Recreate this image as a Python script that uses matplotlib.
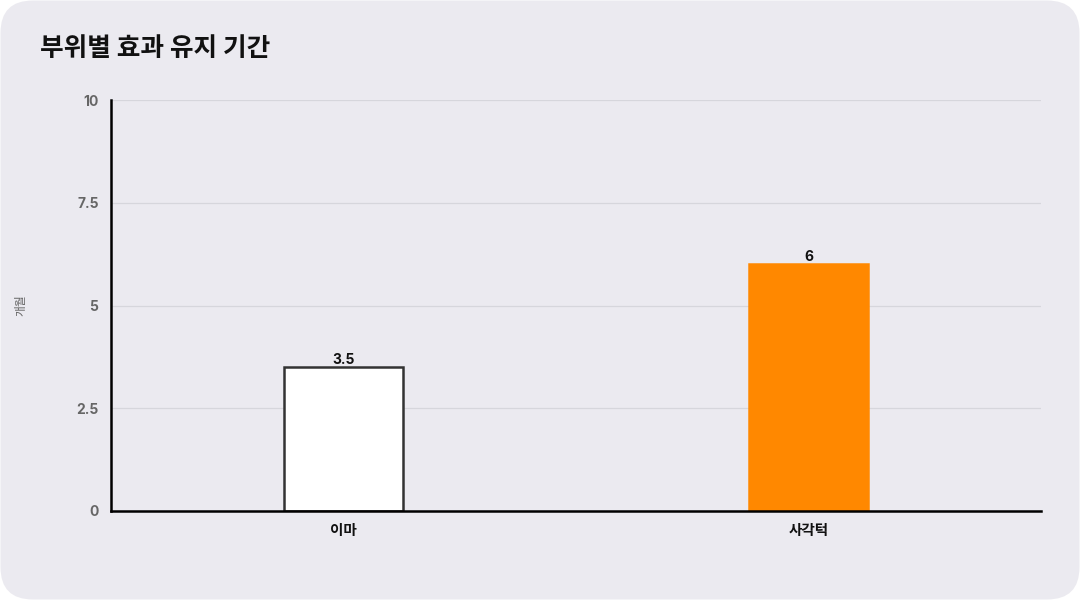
import matplotlib
matplotlib.use("Agg")
import matplotlib.pyplot as plt
from matplotlib.patches import FancyBboxPatch

plt.rcParams['font.family'] = ['Noto Sans CJK KR', 'DejaVu Sans']
num_family = ['Inter', 'Noto Sans CJK KR', 'DejaVu Sans']

categories = ['이마', '사각턱']
values = [3.5, 6]
bar_colors = ['#ffffff', '#ff8800']
edge_colors = ['#333333', '#ff8800']
yticks = [0, 2.5, 5, 7.5, 10]
ytick_labels = ['0', '2.5', '5', '7.5', '10']
title = '부위별 효과 유지 기간'
ylabel = '개월'

W, H = 1080, 600
fig = plt.figure(figsize=(W / 100, H / 100), dpi=100)
fig.patch.set_facecolor('white')
bg = '#ebeaf0'
fig.patches.append(FancyBboxPatch((0.5 / W, 0.5 / H), 1 - 1 / W, 1 - 1 / H,
                                  boxstyle='round,pad=0,rounding_size=0.03',
                                  transform=fig.transFigure, facecolor=bg,
                                  edgecolor='none', zorder=-10,
                                  mutation_aspect=W / H))

ax = fig.add_axes([111 / W, 1 - 511 / H, 930 / W, 411 / H])
ax.set_facecolor(bg)
x = list(range(len(categories)))
bars = ax.bar(x, values, width=0.256, color=bar_colors, edgecolor=edge_colors,
              linewidth=1.8, zorder=3)
for xi, v in zip(x, values):
    ax.text(xi, v, f'{v:g}', ha='center', va='bottom', fontsize=10,
            fontweight='bold', color='#111111', zorder=4, family=num_family)

ax.set_xlim(-0.5, 1.5)
ax.set_ylim(0, 10)
ax.set_yticks(yticks)
ax.set_yticklabels(ytick_labels)
ax.set_xticks(x)
ax.set_xticklabels(categories)
ax.tick_params(axis='y', length=0, pad=9, labelsize=10, labelcolor='#666666')
ax.tick_params(axis='x', length=0, pad=8, labelsize=10.5, labelcolor='#111111')
for lab in ax.get_yticklabels():
    lab.set_fontweight('bold')
    lab.set_family(num_family)
for lab in ax.get_xticklabels():
    lab.set_fontweight('bold')

ax.grid(axis='y', color='#d6d6dc', linewidth=0.9, zorder=0)
ax.set_axisbelow(True)
for s in ['top', 'right']:
    ax.spines[s].set_visible(False)
for s in ['left', 'bottom']:
    ax.spines[s].set_color('#000000')
    ax.spines[s].set_linewidth(1.8)
    ax.spines[s].set_zorder(5)

ax.set_ylabel(ylabel, fontsize=8.5, color='#666666', rotation=90)
ax.yaxis.set_label_coords(-84 / 930, 0.5)

fig.text(40 / W, 1 - 48 / H, title, fontsize=18.5, fontweight='bold',
         color='#111111', ha='left', va='center')

fig.savefig('out.png', dpi=100, facecolor=fig.get_facecolor())
